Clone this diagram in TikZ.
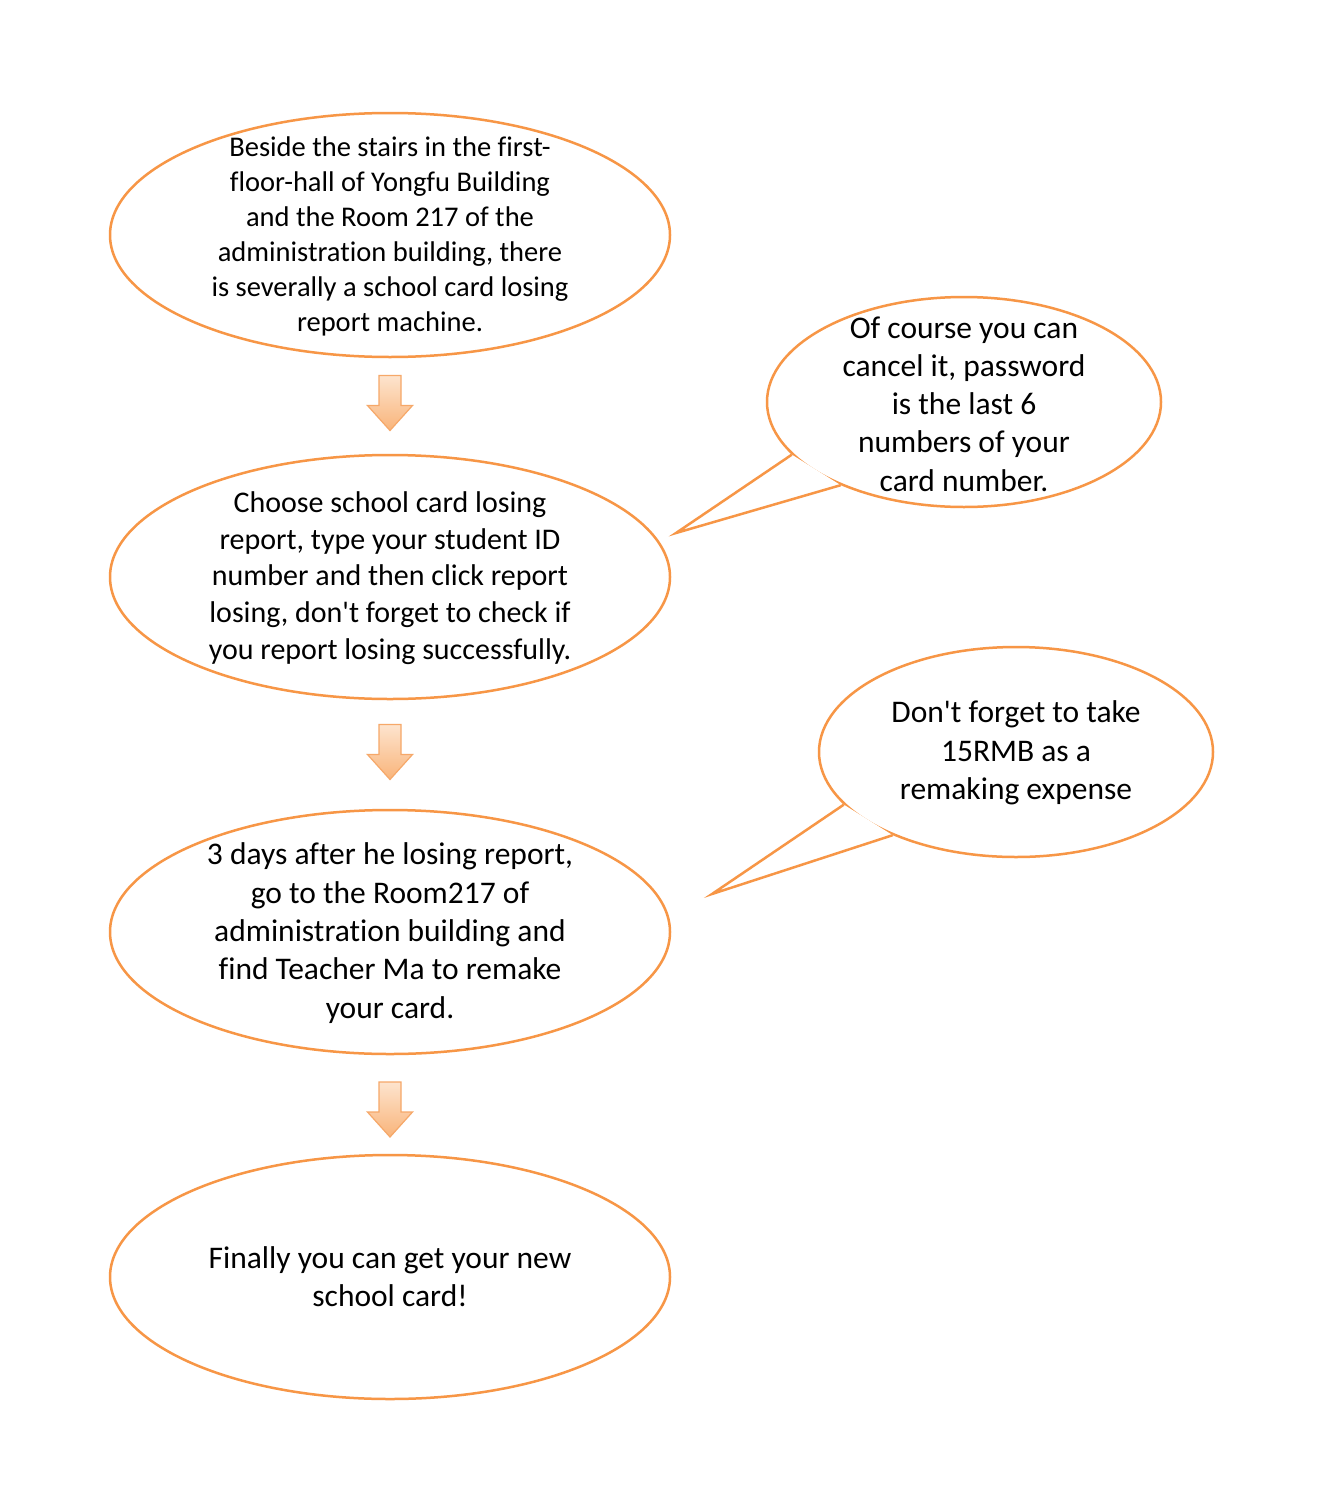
\documentclass[tikz,border=0pt]{standalone}
\usepackage{fontspec}
\newfontfamily\calfont{Carlito}[Ligatures=NoCommon]
\usetikzlibrary{shapes.geometric}
\definecolor{ob}{HTML}{F79646}
\definecolor{atop}{HTML}{FDE4CE}
\definecolor{abot}{HTML}{F9B47A}
\definecolor{aedge}{HTML}{F6A869}
\tikzset{
  bub/.style={ellipse, draw=ob, line width=2.5pt, fill=white, inner sep=0pt,
    minimum width=560pt, minimum height=244pt},
  callout/.style={ellipse, draw=ob, line width=2.5pt, fill=white, inner sep=0pt,
    minimum width=394pt, minimum height=210pt},
  txt/.style={align=center, inner sep=0pt},
  fa/.style={txt, font=\calfont\fontsize{28.5}{35}\selectfont},
  fb/.style={txt, font=\calfont\fontsize{30}{36.75}\selectfont},
  fc/.style={txt, font=\calfont\fontsize{31.5}{38.3}\selectfont},
  tail/.style={draw=ob, line width=2.5pt, line join=miter},
  blockarrow/.pic={
    \shade[top color=atop, bottom color=abot, draw=aedge, line width=1.2pt]
      (-11,-27.5) -- (11,-27.5) -- (11,2.5) -- (22.5,2.5) -- (0,27.5) -- (-22.5,2.5) -- (-11,2.5) -- cycle;
  }
}
\begin{document}
\begin{tikzpicture}[x=1pt,y=-1pt]
\useasboundingbox (0,0) rectangle (1323,1512);
\fill[white] (0,0) rectangle (1323,1512);

\node[bub] (e1) at (390,235) {};
\node[fa] (e1t) at (390,236) {Beside the stairs in the first-\\floor-hall of Yongfu Building\\and the Room 217 of the\\administration building, there\\is severally a school card losing\\report machine.};
\node[bub] (e2) at (390,577) {};
\node[fb] (e2t) at (390,578) {Choose school card losing\\report, type your student ID\\number and then click report\\losing, don't forget to check if\\you report losing successfully.};
\node[bub] (e3) at (390,932) {};
\node[fc] (e3t) at (390,933) {3 days after he losing report,\\go to the Room217 of\\administration building and\\find Teacher Ma to remake\\your card.};
\node[bub] (e4) at (390,1277) {};
\node[fc] (e4t) at (390,1277) {Finally you can get your new\\school card!};

\coordinate (a1) at (390,403);
\coordinate (a2) at (390,752);
\coordinate (a3) at (390,1109.5);
\pic at (a1) {blockarrow};
\pic at (a2) {blockarrow};
\pic at (a3) {blockarrow};

\node[callout] (c1) at (964,402) {};
\node[fc] (c1t) at (964,404) {Of course you can\\cancel it, password\\is the last 6\\numbers of your\\card number.};
\coordinate (t1) at (676,533);
\fill[white] (c1.197) -- (t1) -- (c1.214.5) -- cycle;
\draw[tail] (c1.197) -- (t1) -- (c1.214.5);

\node[callout] (c2) at (1016,752) {};
\node[fc] (c2t) at (1016,753) {Don't forget to take\\15RMB as a\\remaking expense};
\coordinate (t2) at (712,894);
\fill[white] (c2.197) -- (t2) -- (c2.214.5) -- cycle;
\draw[tail] (c2.197) -- (t2) -- (c2.214.5);
\end{tikzpicture}
\end{document}
